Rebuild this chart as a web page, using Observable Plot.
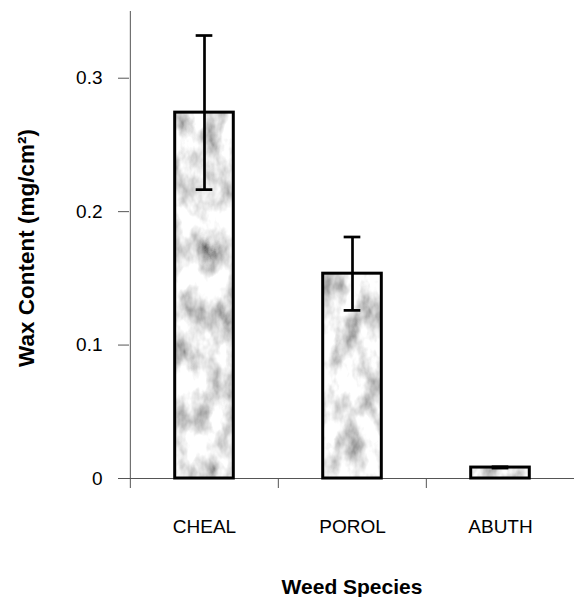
<!DOCTYPE html>
<html>
<head>
<meta charset="utf-8">
<script src="https://cdn.jsdelivr.net/npm/d3@7"></script>
<script src="https://cdn.jsdelivr.net/npm/@observablehq/plot@0.6"></script>
<style>
  html, body { margin: 0; padding: 0; background: #fff; }
  #chart svg { display: block; }
</style>
</head>
<body>
<div id="chart"></div>
<script>
const species = ["CHEAL", "POROL", "ABUTH"];
const waxMean = [0.2742, 0.1535, 0.0082];
const waxLow  = [0.2165, 0.1260, 0.0078];
const waxHigh = [0.3320, 0.1810, 0.0088];
const yTicks = [0, 0.1, 0.2, 0.3];
const yTop = 0.35;
const xTitle = "Weed Species";
const yTitle = "Wax Content (mg/cm²)";

const data = species.map((s, i) => ({species: s, wax: waxMean[i], lo: waxLow[i], hi: waxHigh[i]}));

const W = 574, H = 597, ML = 129, MR = 0, MT = 11, MB = 119;
const halfBand = (W - ML - MR) / species.length / 2;

const chart = Plot.plot({
  width: W,
  height: H,
  marginTop: MT,
  marginBottom: MB,
  marginLeft: ML,
  marginRight: MR,
  style: {fontFamily: "'Liberation Sans', Arial, Helvetica, sans-serif", background: "#fff", color: "#000", fontSize: "18px"},
  x: {domain: species, padding: 0},
  y: {domain: [0, yTop]},
  marks: [
    Plot.axisY(yTicks, {tickSize: 11, tickPadding: 16, fontSize: 19, stroke: "#555", fill: "#000", label: null,
      tickFormat: d => d === 0 ? "0" : d.toFixed(1)}),
    Plot.ruleX([species[0]], {dx: -halfBand, y1: 0, y2: yTop, stroke: "#555"}),
    Plot.axisX(species, {tickSize: 10, tickFormat: () => "", dx: -halfBand, stroke: "#555", label: null}),
    Plot.axisX(species, {tickSize: 0, tickPadding: 41, fontSize: 19, fill: "#000", label: null}),
    Plot.ruleY([0], {stroke: "#555"}),
    Plot.barY(data, {x: "species", y: "wax", fill: "url(#marble)", stroke: "#000", strokeWidth: 3, insetLeft: 44.7, insetRight: 44.7}),
    Plot.ruleX(data, {x: "species", y1: "lo", y2: "hi", stroke: "#000", strokeWidth: 2.7}),
    Plot.tickY(data, {x: "species", y: "hi", stroke: "#000", strokeWidth: 2.7, insetLeft: halfBand - 8.5, insetRight: halfBand - 8.5}),
    Plot.tickY(data, {x: "species", y: "lo", stroke: "#000", strokeWidth: 2.7, insetLeft: halfBand - 8.5, insetRight: halfBand - 8.5}),
    Plot.text([xTitle], {frameAnchor: "bottom", dy: 109, lineAnchor: "middle", textAnchor: "middle", fontWeight: "bold", fontSize: 21, fill: "#000"}),
    Plot.text([yTitle], {frameAnchor: "left", rotate: -90, dx: -103, dy: 3, lineAnchor: "middle", textAnchor: "middle", fontWeight: "bold", fontSize: 22.5, fill: "#000"})
  ]
});

d3.select(chart).insert("defs", ":first-child").html(`
  <filter id="marbleNoise" x="0" y="0" width="100%" height="100%" filterUnits="objectBoundingBox">
    <feTurbulence type="fractalNoise" baseFrequency="0.05 0.03" numOctaves="4" seed="5" result="n"/>
    <feColorMatrix in="n" type="matrix" values="1.6 0 0 0 0.0  1.6 0 0 0 0.0  1.6 0 0 0 0.0  0 0 0 0 1"/>
  </filter>
  <pattern id="marble" patternUnits="userSpaceOnUse" x="0" y="0" width="600" height="600">
    <rect width="600" height="600" fill="#ccc" filter="url(#marbleNoise)"/>
  </pattern>
`);

document.getElementById("chart").appendChild(chart);
</script>
</body>
</html>
